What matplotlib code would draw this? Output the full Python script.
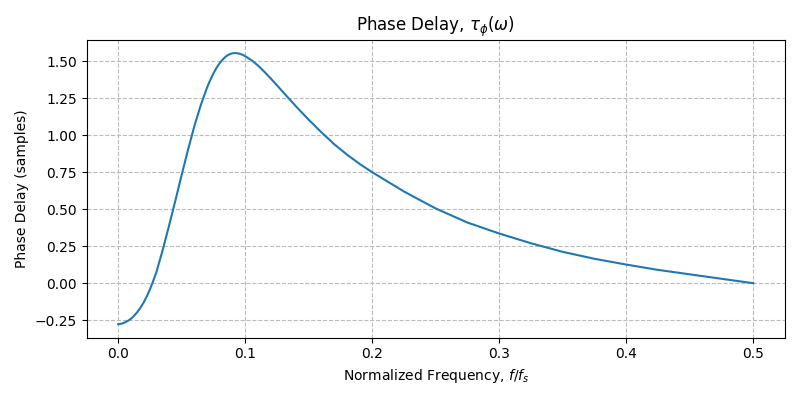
import matplotlib
matplotlib.use('Agg')
import matplotlib.pyplot as plt

# Frequencies (normalized) and phase delay
freq = [0.0, 0.0025, 0.005, 0.0075, 0.01, 0.0125, 0.015, 0.0175, 0.02,
        0.0225, 0.025, 0.0275, 0.03, 0.035, 0.04, 0.045,
        0.05, 0.055, 0.06, 0.065, 0.07, 0.0725, 0.075, 0.0775, 0.08, 0.0825,
        0.085, 0.0875, 0.09, 0.0925, 0.095, 0.0975,
        0.1, 0.105, 0.11, 0.115, 0.12, 0.13, 0.14, 0.15, 0.16, 0.17, 0.18,
        0.19, 0.2, 0.225, 0.25, 0.275, 0.3, 0.325, 0.35, 0.375, 0.4, 0.425,
        0.45, 0.475, 0.5]
delay = [-0.277, -0.274, -0.266, -0.255, -0.24, -0.22, -0.195, -0.165, -0.13,
         -0.088, -0.04, 0.015, 0.075, 0.225, 0.39, 0.56,
         0.735, 0.905, 1.065, 1.205, 1.325, 1.375, 1.42, 1.458, 1.49, 1.515,
         1.535, 1.548, 1.555, 1.556, 1.553, 1.546,
         1.535, 1.507, 1.472, 1.43, 1.385, 1.29, 1.195, 1.105, 1.02, 0.94,
         0.87, 0.807, 0.75, 0.62, 0.505, 0.41, 0.336, 0.27, 0.212, 0.165,
         0.126, 0.09, 0.06, 0.03, 0.0]

fig, ax = plt.subplots(figsize=(8, 4), dpi=100)
ax.plot(freq, delay, color='#1f77b4', linewidth=1.5)
ax.grid(True, linestyle='--', color='#bbbbbb')
ax.set_title(r'Phase Delay, $\tau_\phi(\omega)$')
ax.set_xlabel(r'Normalized Frequency, $f/f_s$')
ax.set_ylabel('Phase Delay (samples)')
fig.tight_layout()
fig.savefig('out.png')
